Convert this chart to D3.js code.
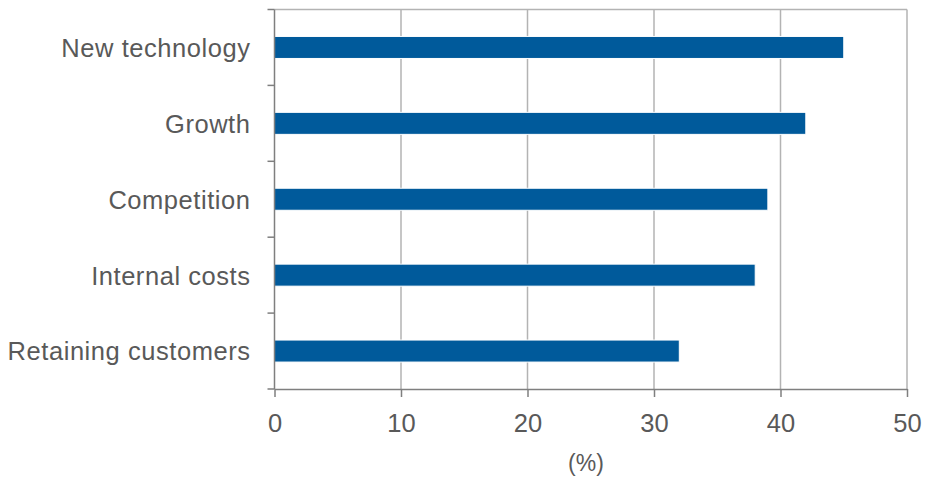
<!DOCTYPE html>
<html lang="en">
<head>
    <meta charset="UTF-8">
    <title>Bar chart</title>
    <script src="https://d3js.org/d3.v7.min.js"></script>
    <style>
        body {
            margin: 0;
            padding: 0;
            background: white;
        }

        text {
            font-family: "Liberation Sans", Arial, sans-serif;
            fill: #595959;
        }
    </style>
</head>
<body>
    <svg id="chart"></svg>

    <script>
        const categories = ["New technology", "Growth", "Competition", "Internal costs", "Retaining customers"];
        const values = [45, 42, 39, 38, 32];
        const xTicks = [0, 10, 20, 30, 40, 50];

        const width = 926;
        const height = 478;
        const margin = { top: 9.5, right: 19, bottom: 89, left: 274.5 };
        const fontSize = 25.5;

        const svg = d3.select("#chart")
            .attr("width", width)
            .attr("height", height);

        const x = d3.scaleLinear()
            .domain([0, 50])
            .range([margin.left, width - margin.right]);

        const y = d3.scaleBand()
            .domain(categories)
            .range([margin.top, height - margin.bottom])
            .paddingInner(0.71)
            .paddingOuter(0.355);

        const plotTop = margin.top;
        const plotBottom = height - margin.bottom;

        // gridlines (and the top / right frame)
        svg.append("g")
            .selectAll("line")
            .data(xTicks.slice(1))
            .enter().append("line")
            .attr("x1", d => x(d))
            .attr("x2", d => x(d))
            .attr("y1", plotTop)
            .attr("y2", plotBottom)
            .attr("stroke", "#b3b3b3")
            .attr("stroke-width", 1.5);

        svg.append("line")
            .attr("x1", x(0))
            .attr("x2", x(50))
            .attr("y1", plotTop)
            .attr("y2", plotTop)
            .attr("stroke", "#b3b3b3")
            .attr("stroke-width", 1.5);

        // bars
        svg.append("g")
            .selectAll("rect")
            .data(categories)
            .enter().append("rect")
            .attr("x", x(0))
            .attr("y", d => y(d))
            .attr("width", (d, i) => x(values[i]) - x(0))
            .attr("height", y.bandwidth())
            .attr("fill", "#005a9b")
            .attr("stroke", "white")
            .attr("stroke-width", 1);

        // x axis
        const xAxis = svg.append("g")
            .attr("transform", `translate(0,${plotBottom})`)
            .call(d3.axisBottom(x).tickValues(xTicks).tickSize(8).tickSizeOuter(0).tickPadding(17));

        xAxis.select(".domain").attr("stroke", "#7f7f7f").attr("stroke-width", 1.5);
        xAxis.selectAll(".tick line").attr("stroke", "#7f7f7f").attr("stroke-width", 1.5);
        xAxis.selectAll("text")
            .attr("font-size", fontSize)
            .attr("font-family", "Liberation Sans, Arial, sans-serif")
            .attr("fill", "#595959");

        // y axis: ticks sit between the categories
        const yAxis = svg.append("g");
        yAxis.append("line")
            .attr("x1", x(0))
            .attr("x2", x(0))
            .attr("y1", plotTop)
            .attr("y2", plotBottom)
            .attr("stroke", "#7f7f7f")
            .attr("stroke-width", 1.5);

        const boundaries = d3.range(categories.length + 1).map(i => plotTop + i * y.step());
        yAxis.selectAll("line.tick")
            .data(boundaries)
            .enter().append("line")
            .attr("class", "tick")
            .attr("x1", x(0) - 7)
            .attr("x2", x(0))
            .attr("y1", d => d)
            .attr("y2", d => d)
            .attr("stroke", "#7f7f7f")
            .attr("stroke-width", 1.5);

        yAxis.selectAll("text")
            .data(categories)
            .enter().append("text")
            .attr("x", x(0) - 24)
            .attr("y", d => y(d) + y.bandwidth() / 2)
            .attr("dy", "0.37em")
            .attr("text-anchor", "end")
            .attr("font-size", fontSize)
            .attr("letter-spacing", 0.55)
            .text(d => d);

        // axis title
        svg.append("text")
            .attr("x", 586)
            .attr("y", 471)
            .attr("text-anchor", "middle")
            .attr("font-size", 23)
            .text("(%)");
    </script>
</body>
</html>
